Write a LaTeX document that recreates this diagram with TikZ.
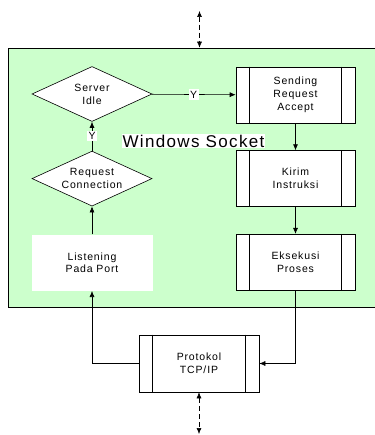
\documentclass[tikz,border=0pt]{standalone}
\usepackage{fontspec}
\setmainfont{Liberation Sans}[LetterSpace=8]
\usetikzlibrary{shapes.geometric,positioning,arrows.meta}
\definecolor{socketgreen}{HTML}{CCFFCC}

\begin{document}
\begin{tikzpicture}
  [x=1pt,y=-1pt,
   font=\fontsize{10.5}{12.8}\selectfont,
   >={Latex[length=6pt,width=5pt]},
   line width=0.6pt,
   socketN/.style={rectangle,draw,fill=socketgreen,minimum width=372pt,minimum height=259pt},
   decisionN/.style={diamond,aspect=2.2,draw,fill=white,minimum width=120pt,minimum height=55pt,inner sep=0pt,align=center},
   processN/.style={rectangle,draw,fill=white,minimum width=119pt,minimum height=56pt,align=center},
   plainN/.style={rectangle,fill=white,minimum width=121pt,minimum height=56pt,align=center},
   yesL/.style={fill=white,inner sep=1.5pt},
   node distance=28pt]

  \useasboundingbox (0,0) rectangle (374,435);

  % green area behind the socket part
  \node[socketN] (socket) at (194,177.5) {};
  \node[fill=white,inner sep=1pt,font=\fontsize{17}{20}\selectfont] (title) at (193.5,141) {Windows Socket};

  \path (92,94)     node[decisionN] (idle) {Server\\Idle}
        (295.5,95)  node[processN] (sending) {Sending\\Request\\Accept};

  \node[decisionN] (request) [below=29pt of idle] {Request\\Connection};
  \node[plainN] (listen) [below=of request] {Listening\\Pada Port};
  \node[processN] (kirim) [below=27pt of sending] {Kirim\\Instruksi};
  \node[processN] (eksekusi) [below=27pt of kirim] {Eksekusi\\Proses};
  \node[processN,minimum width=120pt,minimum height=57pt] (protokol) at (199,363.5) {Protokol\\TCP/IP};

  % double sides of the process boxes
  \foreach \n in {sending,kirim,eksekusi,protokol}
    \draw ([xshift=14pt]\n.north west) -- ([xshift=14pt]\n.south west)
          ([xshift=-14pt]\n.north east) -- ([xshift=-14pt]\n.south east);

  \draw [->] (idle) -- node[yesL] {Y} (sending);
  \draw [->] (request) -- node[yesL] {Y} (idle);
  \draw [->] (listen) -- (request);
  \draw [->] (sending) -- (kirim);
  \draw [->] (kirim) -- (eksekusi);
  \draw [->] (eksekusi) |- (protokol);
  \draw [->] (protokol) -| (listen);

  % network side
  \coordinate (netTop) at (199.5,11);
  \coordinate (netBot) at (199,434);
  \draw [<->,dash pattern=on 5pt off 3pt] (netTop) -- (netTop |- socket.north);
  \draw [<->,dash pattern=on 5pt off 3pt] (protokol) -- (netBot);

\end{tikzpicture}
\end{document}
